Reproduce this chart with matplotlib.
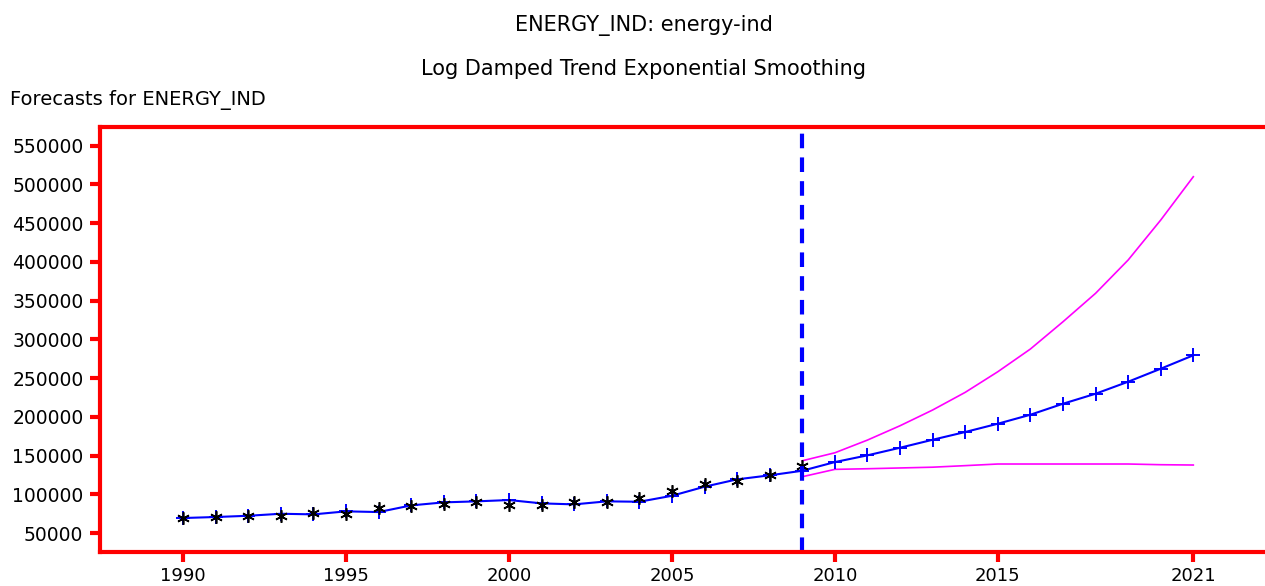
import matplotlib.pyplot as plt

# observed values (black asterisks)
obs_years = list(range(1990, 2010))
actual = [69400, 71000, 72300, 72300, 75400, 74500, 82300, 85200, 87800, 89600,
          86100, 85800, 90000, 89600, 94800, 104200, 112900, 117500, 125300, 136900]

# one-step fitted values + forecasts (blue line)
fit_years = list(range(1990, 2022))
fitted = [69400, 70700, 72300, 74900, 74100, 78000, 77100, 85700, 89600, 90900,
          92600, 88300, 87000, 90900, 90400, 98100, 109800, 119300, 124500, 130400,
          141600, 150300, 160100, 170400, 180400, 191100, 202700, 216900, 229800,
          245300, 262100, 279400]

# confidence band
band_years = list(range(2009, 2022))
upper = [143300, 153600, 170000, 188500, 208800, 231600, 258200, 287500, 322700,
         359400, 402400, 454000, 509900]
lower = [122700, 132200, 133000, 134000, 135000, 137000, 139100, 139100, 139100,
         139100, 139100, 138200, 137800]

forecast_start = 2009
xticks = [1990, 1995, 2000, 2005, 2010, 2015, 2021]
yticks = list(range(50000, 550001, 50000))

fig = plt.figure(figsize=(12.65, 5.86), dpi=100)
ax = fig.add_axes([0.0791, 0.0585, 0.9209, 0.7248])

ax.plot(band_years, upper, color='#ff00ff', lw=1.2)
ax.plot(band_years, lower, color='#ff00ff', lw=1.2)
ax.plot(fit_years, fitted, color='#0000ff', lw=1.5, marker='+', ms=10, mew=1.4)
ax.plot(obs_years, actual, ls='none', marker=(6, 2, 0), ms=9, mew=1.2, color='black')
ax.axvline(forecast_start, color='#0000ff', lw=3, ls=(0, (3.5, 2.2)))

ax.set_xlim(1987.45, 2023.2)
ax.set_ylim(25900, 574100)
ax.set_xticks(xticks)
ax.set_yticks(yticks)

for side in ['left', 'top', 'bottom']:
    ax.spines[side].set_color('red')
    ax.spines[side].set_linewidth(3)
ax.spines['right'].set_visible(False)
ax.tick_params(colors='red', width=3, length=7, labelcolor='black', labelsize=13.5)
ax.tick_params(axis='x', pad=4, labelsize=13)
ax.tick_params(axis='y', pad=5)

fig.text(0.509, 0.957, 'ENERGY_IND: energy-ind', ha='center', va='center', fontsize=15)
fig.text(0.509, 0.882, 'Log Damped Trend Exponential Smoothing', ha='center', va='center', fontsize=15)
fig.text(0.008, 0.829, 'Forecasts for ENERGY_IND', ha='left', va='center', fontsize=14)

fig.savefig('out.png', dpi=100)
